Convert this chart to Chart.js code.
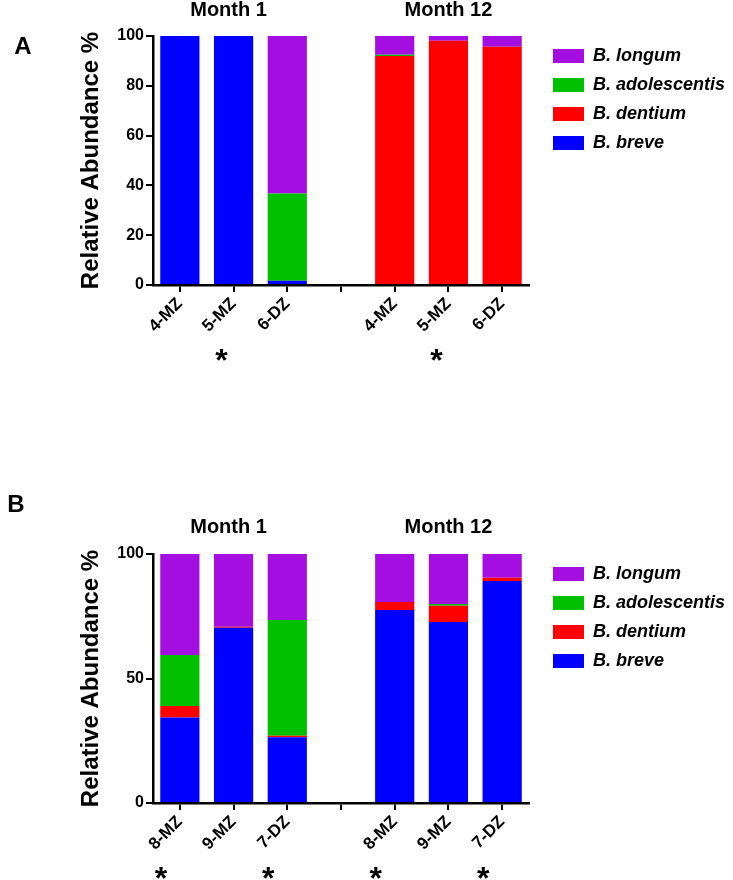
<!DOCTYPE html>
<html><head><meta charset="utf-8">
<script src="https://cdn.jsdelivr.net/npm/chart.js@4/dist/chart.umd.min.js"></script>
<style>
html,body{margin:0;padding:0;background:#fff;}
#wrap{position:relative;width:733px;height:880px;overflow:hidden;}
.panel{position:absolute;left:0;width:733px;}
#pa{top:0;height:390px;}
#pb{top:390px;height:490px;}
canvas{display:block;}
</style></head><body>
<div id="wrap">
<div class="panel" id="pa"><canvas id="ca" width="733" height="390"></canvas></div>
<div class="panel" id="pb"><canvas id="cb" width="733" height="490"></canvas></div>
</div>
<script>
// ---- data ----
const categoriesA = ['4-MZ', '5-MZ', '6-DZ', '', '4-MZ', '5-MZ', '6-DZ'];
const categoriesB = ['8-MZ', '9-MZ', '7-DZ', '', '8-MZ', '9-MZ', '7-DZ'];
const seriesNames = ['B. breve', 'B. dentium', 'B. adolescentis', 'B. longum'];
const groupTitles = ['Month 1', 'Month 12'];
const yTicksA = [0, 20, 40, 60, 80, 100];
const yTicksB = [0, 50, 100];

const breveA   = [100, 100, 1.7, null, 0,   0,    0];
const dentiumA = [0,   0,   0,   null, 92,  98.1, 95.7];
const adolA    = [0,   0,   35,  null, 0.5, 0,    0];
const longumA  = [0,   0,   63.3,null, 7.5, 1.9,  4.3];

const breveB   = [34.3, 70.4, 26.4, null, 77.5, 72.7, 89.2];
const dentiumB = [4.7,  0.4,  0.6,  null, 3.2,  6.5,  1.3];
const adolB    = [20.4, 0,    46.5, null, 0,    0.7,  0];
const longumB  = [40.6, 29.2, 26.5, null, 19.3, 20.1, 9.5];

const starsA = [1, 5];
const starsB = [0, 2, 4, 6];

// ---- styling ----
const FONT = "'Liberation Sans', Arial, sans-serif";
const COLORS = ['#0000FF', '#FF0000', '#00C000', '#A50EE0'];

const legendShift = {
  id: 'legendShift',
  afterLayout(chart, args, o) {
    const l = chart.legend;
    if (l) { l.left += o.dx; l.right += o.dx; }
  }
};

const annot = {
  id: 'annot',
  afterDraw(chart, args, o) {
    const ctx = chart.ctx, x = chart.scales.x, a = chart.chartArea;
    ctx.save();
    ctx.fillStyle = '#000';
    ctx.textAlign = 'center';
    ctx.textBaseline = 'middle';
    ctx.font = `bold 24px ${FONT}`;
    ctx.fillText(o.letter, o.letterX, o.letterY);
    ctx.font = `bold 20px ${FONT}`;
    o.groups.forEach((g, i) => {
      const cx = x.getPixelForValue(g.mid) + g.dx;
      ctx.fillText(groupTitles[i], cx, a.top + o.titleDy);
    });
    ctx.font = `bold 32px ${FONT}`;
    ctx.textBaseline = 'alphabetic';
    o.stars.forEach(i => ctx.fillText('*', x.getPixelForValue(i) + o.starDx, a.bottom + o.starDy));
    ctx.restore();
  }
};

function makeChart(id, labels, series, yTicks, annotOpts, xh, area) {
  const datasets = series.map((d, i) => ({
    label: seriesNames[i], data: d, backgroundColor: COLORS[i], borderWidth: 0
  }));
  const tickFont = { family: FONT, size: 16, weight: 'bold' };
  const chart = new Chart(document.getElementById(id), {
    type: 'bar',
    data: { labels, datasets },
    options: {
      responsive: false,
      animation: false,
      events: [],
      layout: { padding: { left: 73, right: 0, top: area.top, bottom: 0 } },
      datasets: { bar: { barPercentage: 0.73, categoryPercentage: 1 } },
      scales: {
        x: {
          stacked: true, offset: true,
          grid: { offset: false, drawOnChartArea: false, color: '#000', lineWidth: 2, tickLength: 7 },
          border: { color: '#000', width: 2.5 },
          ticks: { minRotation: 45, maxRotation: 45, autoSkip: false, color: '#000',
                   font: { family: FONT, size: 17, weight: 'bold' }, padding: 2 },
          afterFit: s => { s.height = xh; }
        },
        y: {
          stacked: true, min: 0, max: 100,
          afterBuildTicks: s => { s.ticks = yTicks.map(v => ({ value: v })); },
          grid: { drawOnChartArea: false, color: '#000', lineWidth: 2, tickLength: 7 },
          border: { color: '#000', width: 2.5 },
          ticks: { color: '#000', font: tickFont, padding: 2 },
          title: { display: true, text: 'Relative Abundance %', color: '#000',
                   font: { family: FONT, size: 24, weight: 'bold' }, padding: { top: 4, bottom: 4 } },
          afterFit: s => { s.width = 80; }
        }
      },
      plugins: {
        legend: {
          position: 'right', align: 'start', fullSize: false, reverse: true, maxWidth: 215,
          labels: { boxWidth: 31, boxHeight: 14, padding: 11, color: '#000',
                    font: { family: FONT, size: 18, weight: 'bold', style: 'italic' } }
        },
        tooltip: { enabled: false },
        legendShift: { dx: 13 },
        annot: annotOpts
      }
    },
    plugins: [legendShift, annot]
  });
  // pin the plot area to the reference position
  for (let k = 0; k < 3; k++) {
    const a = chart.chartArea, p = chart.options.layout.padding;
    p.left += area.left - a.left;
    p.top += area.top - a.top;
    p.right += a.right - area.right;
    chart.update('none');
  }
  return chart;
}

makeChart('ca', categoriesA, [breveA, dentiumA, adolA, longumA], yTicksA, {
  letter: 'A', letterX: 23, letterY: 47,
  groups: [{ mid: 1, dx: -5 }, { mid: 5, dx: 0 }], titleDy: -26,
  stars: starsA, starDx: -12, starDy: 86
}, 105, { left: 153, right: 529, top: 36 });

makeChart('cb', categoriesB, [breveB, dentiumB, adolB, longumB], yTicksB, {
  letter: 'B', letterX: 16, letterY: 115,
  groups: [{ mid: 1, dx: -5 }, { mid: 5, dx: 0 }], titleDy: -27,
  stars: starsB, starDx: -19, starDy: 86
}, 77, { left: 153, right: 529, top: 164 });
</script>
</body></html>
